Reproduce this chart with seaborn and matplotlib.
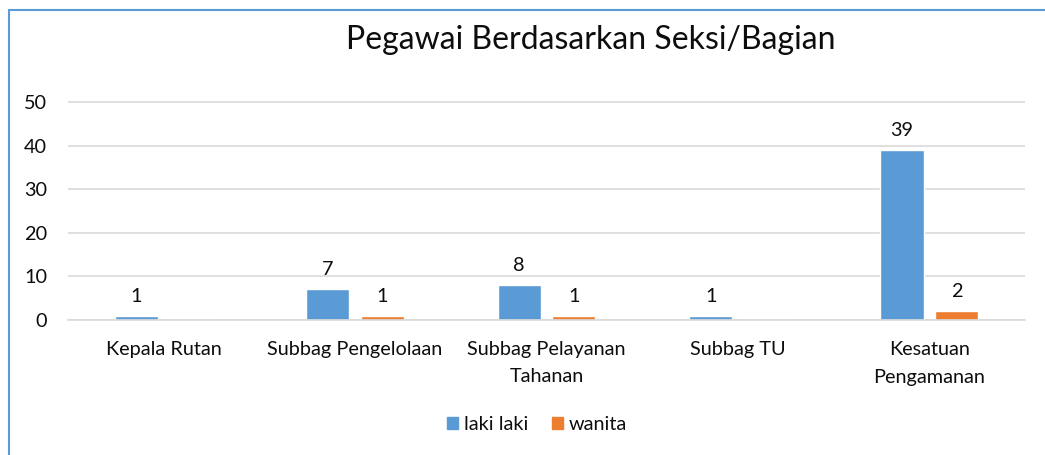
import matplotlib
matplotlib.use("Agg")
import matplotlib.pyplot as plt
import matplotlib.transforms as mtransforms
import seaborn as sns
import pandas as pd
from matplotlib.patches import Rectangle

categories = ["Kepala Rutan", "Subbag Pengelolaan", "Subbag Pelayanan\nTahanan",
              "Subbag TU", "Kesatuan\nPengamanan"]
laki_laki = [1, 7, 8, 1, 39]
wanita = [0, 1, 1, 0, 2]
series_names = ["laki laki", "wanita"]
y_ticks = [0, 10, 20, 30, 40, 50]
title = "Pegawai Berdasarkan Seksi/Bagian"

df = pd.DataFrame({
    "Seksi": categories * 2,
    "Jumlah": laki_laki + wanita,
    "Jenis": [series_names[0]] * len(categories) + [series_names[1]] * len(categories),
})

sns.set_theme(style="white")
plt.rcParams["font.family"] = ["Lato", "DejaVu Sans"]
TXT = "#0d0d0d"
FS = 14.3

fig = plt.figure(figsize=(10.45, 4.55), dpi=100)
ax = fig.add_axes([68 / 1045, 1 - 320 / 455, (1025 - 68) / 1045, (320 - 102) / 455 * 55 / 50])

palette = {"laki laki": "#5B9BD5", "wanita": "#ED7D31"}
sns.barplot(data=df, x="Seksi", y="Jumlah", hue="Jenis", palette=palette,
            width=0.57, gap=0.21, ax=ax, legend=False, saturation=1)

ax.set_ylim(0, 55)
ax.set_xlim(-0.5, len(categories) - 0.5)
ax.set_yticks(y_ticks)
ax.yaxis.grid(True, color="#D9D9D9", linewidth=1.2)
ax.set_axisbelow(True)
for s in ["top", "right", "left"]:
    ax.spines[s].set_visible(False)
ax.spines["bottom"].set_color("#D9D9D9")
ax.spines["bottom"].set_linewidth(1.2)
ax.set_xlabel("")
ax.set_ylabel("")
ax.tick_params(axis="y", length=0, pad=15, labelsize=FS, labelcolor=TXT)
ax.tick_params(axis="x", length=0, labelbottom=False)

# category labels under each group, with wider line spacing
trans = mtransforms.blended_transform_factory(ax.transData, ax.transAxes) + \
    mtransforms.ScaledTranslation(0, -21 / 100, fig.dpi_scale_trans)
for i, cat in enumerate(categories):
    ax.text(i, 0, cat, transform=trans, ha="center", va="top", fontsize=FS,
            color=TXT, linespacing=1.75)

for container in ax.containers:
    labels = [f"{int(v)}" if v > 0 else "" for v in container.datavalues]
    ax.bar_label(container, labels=labels, padding=8, fontsize=FS, color=TXT)

fig.text(591 / 1045, 1 - 40 / 455, title, ha="center", va="center", fontsize=23, color=TXT)

handles = [Rectangle((0, 0), 1, 1, color=palette[n]) for n in series_names]
fig.legend(handles, series_names, loc="center", bbox_to_anchor=(537 / 1045, 1 - 425 / 455),
           ncol=2, frameon=False, fontsize=FS, handlelength=0.55, handleheight=0.55,
           handletextpad=0.3, columnspacing=1.2, labelcolor=TXT)

# partial chart frame (left and top edges visible)
fig.add_artist(Rectangle((9 / 1045, -0.1), 1.2, 1 - 10 / 455 + 0.1, transform=fig.transFigure,
                         fill=False, edgecolor="#5B9BD5", linewidth=1.5))

fig.savefig("out.png", dpi=100)
